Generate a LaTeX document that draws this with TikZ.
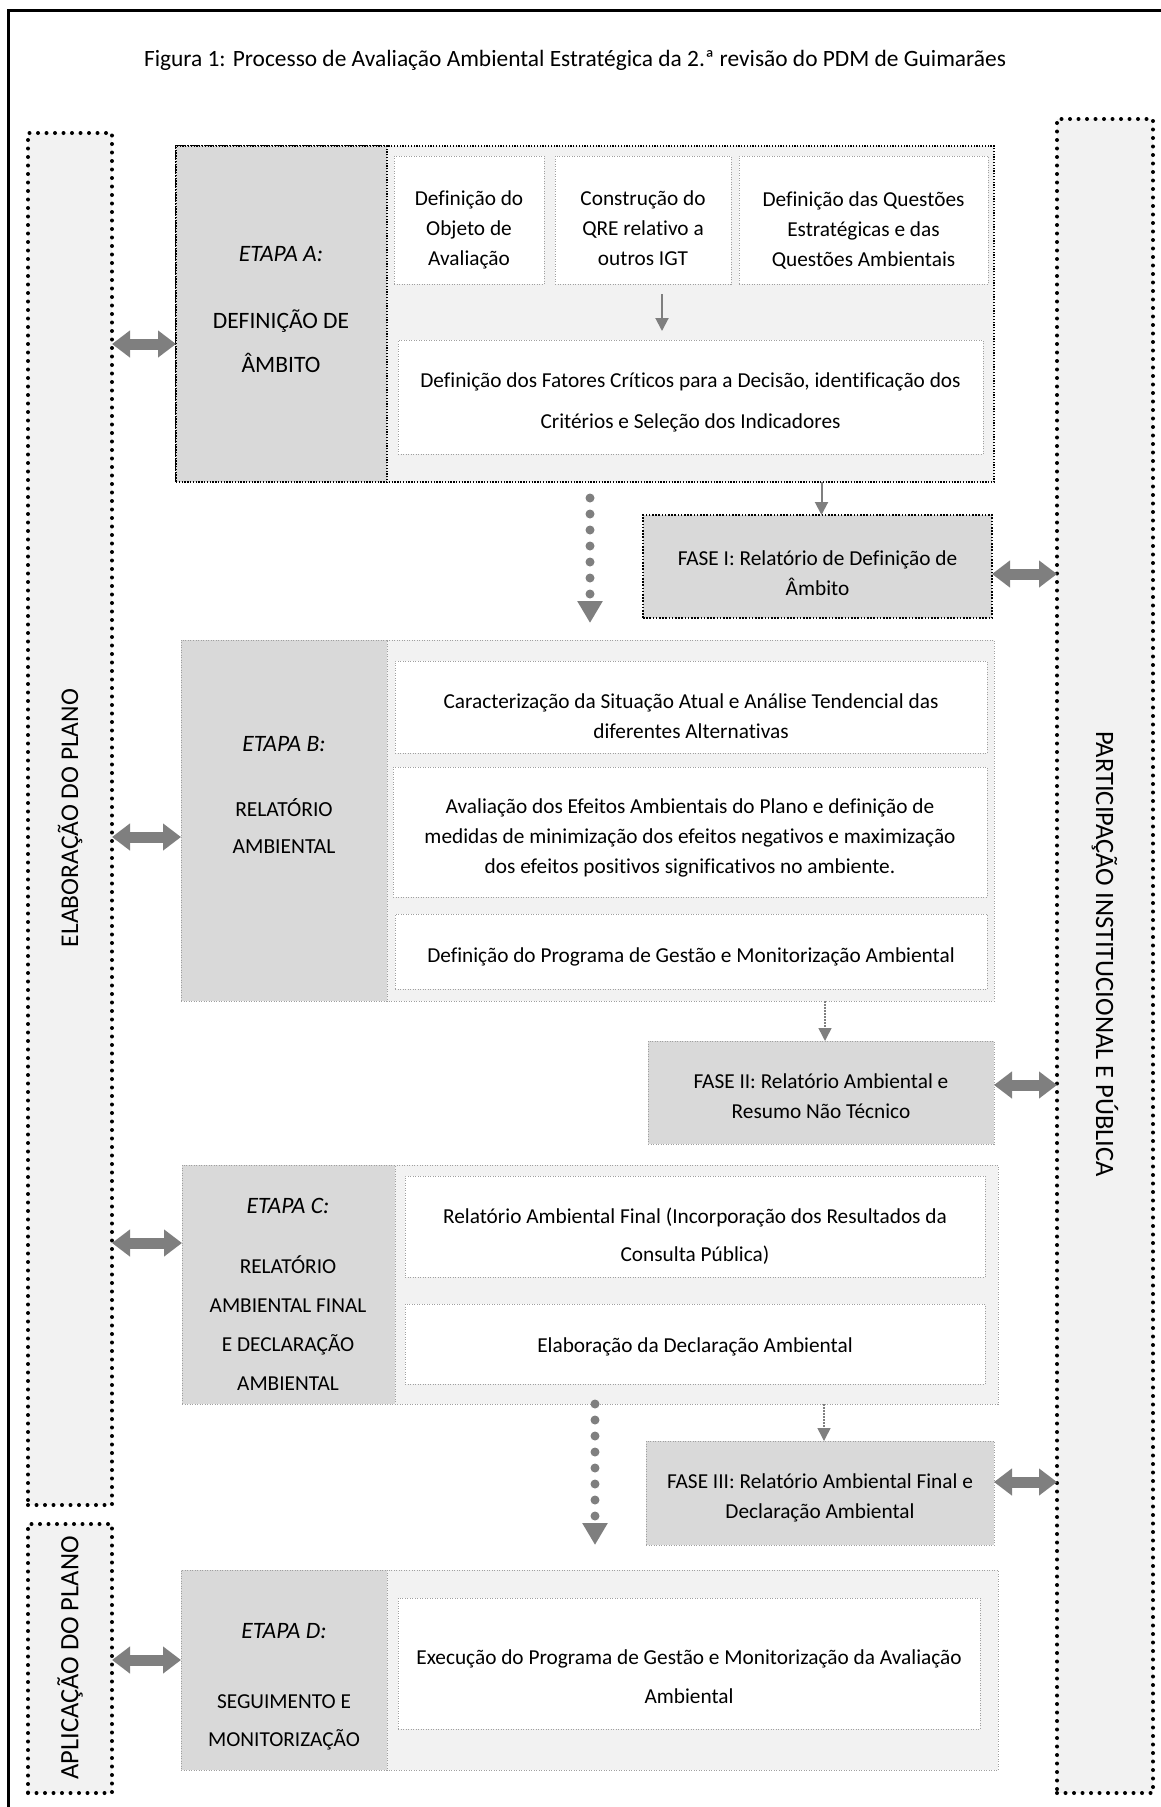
\documentclass[tikz,border=0pt]{standalone}
\usepackage{fontspec}
\setmainfont{Carlito}[Ligatures=NoCommon]
\usetikzlibrary{arrows.meta}
\definecolor{fundo}{HTML}{F2F2F2}
\definecolor{cinza}{HTML}{D9D9D9}
\definecolor{traco}{HTML}{A0A0A0}
\definecolor{seta}{HTML}{7F7F7F}
\newcommand{\fs}[2]{\fontsize{#1}{#2}\selectfont}

\begin{document}
\begin{tikzpicture}[x=1pt,y=-1pt]
    \tikzset{caixa/.style = {rectangle, anchor=north west, inner sep=0pt, outer sep=0pt},
             pontos/.style = {draw=traco, line width=1pt, dash pattern=on 1pt off 1.5pt},
             pretos/.style = {draw=black, line width=1.3pt, dash pattern=on 1.3pt off 1.5pt},
             etapa/.style = {caixa, pontos, fill=fundo},
             rotulo/.style = {caixa, pontos, fill=cinza},
             tarefa/.style = {caixa, pontos, fill=white},
             fase/.style = {caixa, pontos, fill=cinza},
             lateral/.style = {caixa, draw=black, fill=fundo, line width=4pt,
                               dash pattern=on 0pt off 8.5pt, line cap=round},
             texto/.style = {align=center, inner sep=0pt},
             conteudo/.style = {texto, font=\fs{21.3}{30}},
             setafina/.style = {draw=seta, line width=2pt, -{Triangle[length=13pt,width=13pt]}},
             setapont/.style = {setafina, line width=1.5pt, dash pattern=on 1.5pt off 1.5pt},
             setagrossa/.style = {draw=seta, line width=9pt, line cap=round,
                                  dash pattern=on 0pt off 16pt, -{Triangle[length=22pt,width=24pt]}},
             setadupla/.style = {draw=seta, line width=11pt,
                                 {Triangle[length=18pt,width=26pt]}-{Triangle[length=18pt,width=26pt]}}}
    \useasboundingbox (0,0) rectangle (1161,1807);
    \draw[line width=3pt] (8,1807) -- (8,10) -- (1161,10);
    \node[texto, font=\fs{23.4}{28}] (fig) at (575,60)
        {Figura 1: Processo de Avaliação Ambiental Estratégica da 2.ª revisão do PDM de Guimarães};
    % colunas laterais
    \node[lateral, minimum width=84pt, minimum height=1372pt] (elab) at (28,133) {};
    \node[lateral, minimum width=84pt, minimum height=269pt] (aplic) at (28,1524) {};
    \node[lateral, minimum width=96pt, minimum height=1674pt] (part) at (1057,119) {};
    \node[texto, rotate=90, font=\fs{25.5}{30}] (telab) at (70,818) {ELABORAÇÃO DO PLANO};
    \node[texto, rotate=90, font=\fs{26.5}{30}] (taplic) at (70,1658) {APLICAÇÃO DO PLANO};
    \node[texto, rotate=-90, font=\fs{26.5}{30}] (tpart) at (1105,954) {PARTICIPAÇÃO INSTITUCIONAL E PÚBLICA};
    % etapa A
    \node[etapa, pretos, minimum width=818pt, minimum height=336pt] (A) at (176,146) {};
    \node[rotulo, pretos, minimum width=211pt, minimum height=336pt] (rA) at (176,146) {};
    \node[texto, font=\fs{23.5}{28}\itshape] (eA) at (281,254) {ETAPA A:};
    \node[texto, font=\fs{23.5}{44}] (nA) at (281,341) {DEFINIÇÃO DE\\ÂMBITO};
    \node[tarefa, minimum width=150pt, minimum height=128pt] (a1) at (394,156) {};
    \node[tarefa, minimum width=176pt, minimum height=128pt] (a2) at (555,156) {};
    \node[tarefa, minimum width=249pt, minimum height=128pt] (a3) at (739,156) {};
    \node[tarefa, minimum width=585pt, minimum height=114pt] (a4) at (398,340) {};
    \node[conteudo] (ta1) at ([yshift=-10pt]a1.center) {Definição do\\Objeto de\\Avaliação};
    \node[conteudo] (ta2) at ([yshift=-8pt]a2.center) {Construção do\\QRE relativo a\\outros IGT};
    \node[conteudo] (ta3) at ([yshift=-11pt]a3.center) {Definição das Questões\\Estratégicas e das\\Questões Ambientais};
    \node[conteudo, font=\fs{21.3}{41}] (ta4) at ([yshift=-5pt]a4.center)
        {Definição dos Fatores Críticos para a Decisão, identificação dos\\Critérios e Seleção dos Indicadores};
    \node[fase, line width=1.6pt, draw=black, dash pattern=on 1.6pt off 1.6pt,
          minimum width=349pt, minimum height=103pt] (f1) at (643,515) {};
    \node[conteudo] (tf1) at ([yshift=-7pt]f1.center) {FASE I: Relatório de Definição de\\Âmbito};
    % etapa B
    \node[etapa, minimum width=813pt, minimum height=361pt] (B) at (181,640) {};
    \node[rotulo, minimum width=206pt, minimum height=361pt] (rB) at (181,640) {};
    \node[texto, font=\fs{23.5}{28}\itshape] (eB) at (284,744) {ETAPA B:};
    \node[texto, font=\fs{21.5}{37}] (nB) at (284,826) {RELATÓRIO\\AMBIENTAL};
    \node[tarefa, minimum width=592pt, minimum height=92pt] (b1) at (395,661) {};
    \node[tarefa, minimum width=594pt, minimum height=130pt] (b2) at (393,767) {};
    \node[tarefa, minimum width=592pt, minimum height=75pt] (b3) at (395,914) {};
    \node[conteudo] (tb1) at ([yshift=-9pt]b1.center)
        {Caracterização da Situação Atual e Análise Tendencial das\\diferentes Alternativas};
    \node[conteudo] (tb2) at ([yshift=-6pt]b2.center)
        {Avaliação dos Efeitos Ambientais do Plano e definição de\\medidas de minimização dos efeitos negativos e maximização\\dos efeitos positivos significativos no ambiente.};
    \node[conteudo] (tb3) at ([yshift=-5pt]b3.center) {Definição do Programa de Gestão e Monitorização Ambiental};
    \node[fase, minimum width=346pt, minimum height=103pt] (f2) at (648,1041) {};
    \node[conteudo] (tf2) at ([yshift=-3.5pt]f2.center) {FASE II: Relatório Ambiental e\\Resumo Não Técnico};
    % etapa C
    \node[etapa, minimum width=816pt, minimum height=239pt] (C) at (182,1165) {};
    \node[rotulo, minimum width=213pt, minimum height=239pt] (rC) at (182,1165) {};
    \node[texto, font=\fs{23.5}{28}\itshape] (eC) at (288,1206) {ETAPA C:};
    \node[texto, font=\fs{21.3}{39}] (nC) at (288,1323) {RELATÓRIO\\AMBIENTAL FINAL\\E DECLARAÇÃO\\AMBIENTAL};
    \node[tarefa, minimum width=580pt, minimum height=101pt] (c1) at (405,1176) {};
    \node[tarefa, minimum width=580pt, minimum height=80pt] (c2) at (405,1304) {};
    \node[conteudo, font=\fs{21.3}{38}] (tc1) at ([yshift=-10pt]c1.center)
        {Relatório Ambiental Final (Incorporação dos Resultados da\\Consulta Pública)};
    \node[conteudo] (tc2) at ([yshift=-3pt]c2.center) {Elaboração da Declaração Ambiental};
    \node[fase, minimum width=348pt, minimum height=104pt] (f3) at (646,1441) {};
    \node[conteudo] (tf3) at ([yshift=-5pt]f3.center) {FASE III: Relatório Ambiental Final e\\Declaração Ambiental};
    % etapa D
    \node[etapa, minimum width=817pt, minimum height=200pt] (D) at (181,1570) {};
    \node[rotulo, minimum width=206pt, minimum height=200pt] (rD) at (181,1570) {};
    \node[texto, font=\fs{23.5}{28}\itshape] (eD) at (284,1631) {ETAPA D:};
    \node[texto, font=\fs{21.3}{38}] (nD) at (284,1722) {SEGUIMENTO E\\MONITORIZAÇÃO};
    \node[tarefa, minimum width=582pt, minimum height=131pt] (d1) at (398,1598) {};
    \node[conteudo, font=\fs{21.3}{39}] (td1) at ([yshift=-13pt]d1.center)
        {Execução do Programa de Gestão e Monitorização da Avaliação\\Ambiental};
    % setas
    \draw[setafina, shorten <=10pt, shorten >=9pt] ([xshift=19pt]a2.south) -- ([xshift=19pt]a2.south |- a4.north);
    \draw[setafina] ([xshift=4pt]f1.north |- A.south) -- ([xshift=4pt]f1.north);
    \draw[setapont] ([xshift=4pt]f2.north |- B.south) -- ([xshift=4pt]f2.north);
    \draw[setapont] ([xshift=4pt]f3.north |- C.south) -- ([xshift=4pt]f3.north);
    \draw[setagrossa, shorten <=16pt, shorten >=17pt] ([xshift=5pt]A.south) -- ([xshift=5pt]A.south |- B.north);
    \draw[setagrossa, shorten >=25pt] ([xshift=5pt]C.south) -- ([xshift=5pt]C.south |- D.north);
    \draw[setadupla] (elab.east |- 0,344) -- (A.west |- 0,344);
    \draw[setadupla] (elab.east |- 0,837) -- (B.west |- 0,837);
    \draw[setadupla] (elab.east |- 0,1243) -- (C.west |- 0,1243);
    \draw[setadupla] (aplic.east |- 0,1660) -- (D.west |- 0,1660);
    \draw[setadupla] (f1.east |- 0,574) -- (part.west |- 0,574);
    \draw[setadupla] (f2.east |- 0,1085) -- (part.west |- 0,1085);
    \draw[setadupla] (f3.east |- 0,1482) -- (part.west |- 0,1482);
\end{tikzpicture}
\end{document}
